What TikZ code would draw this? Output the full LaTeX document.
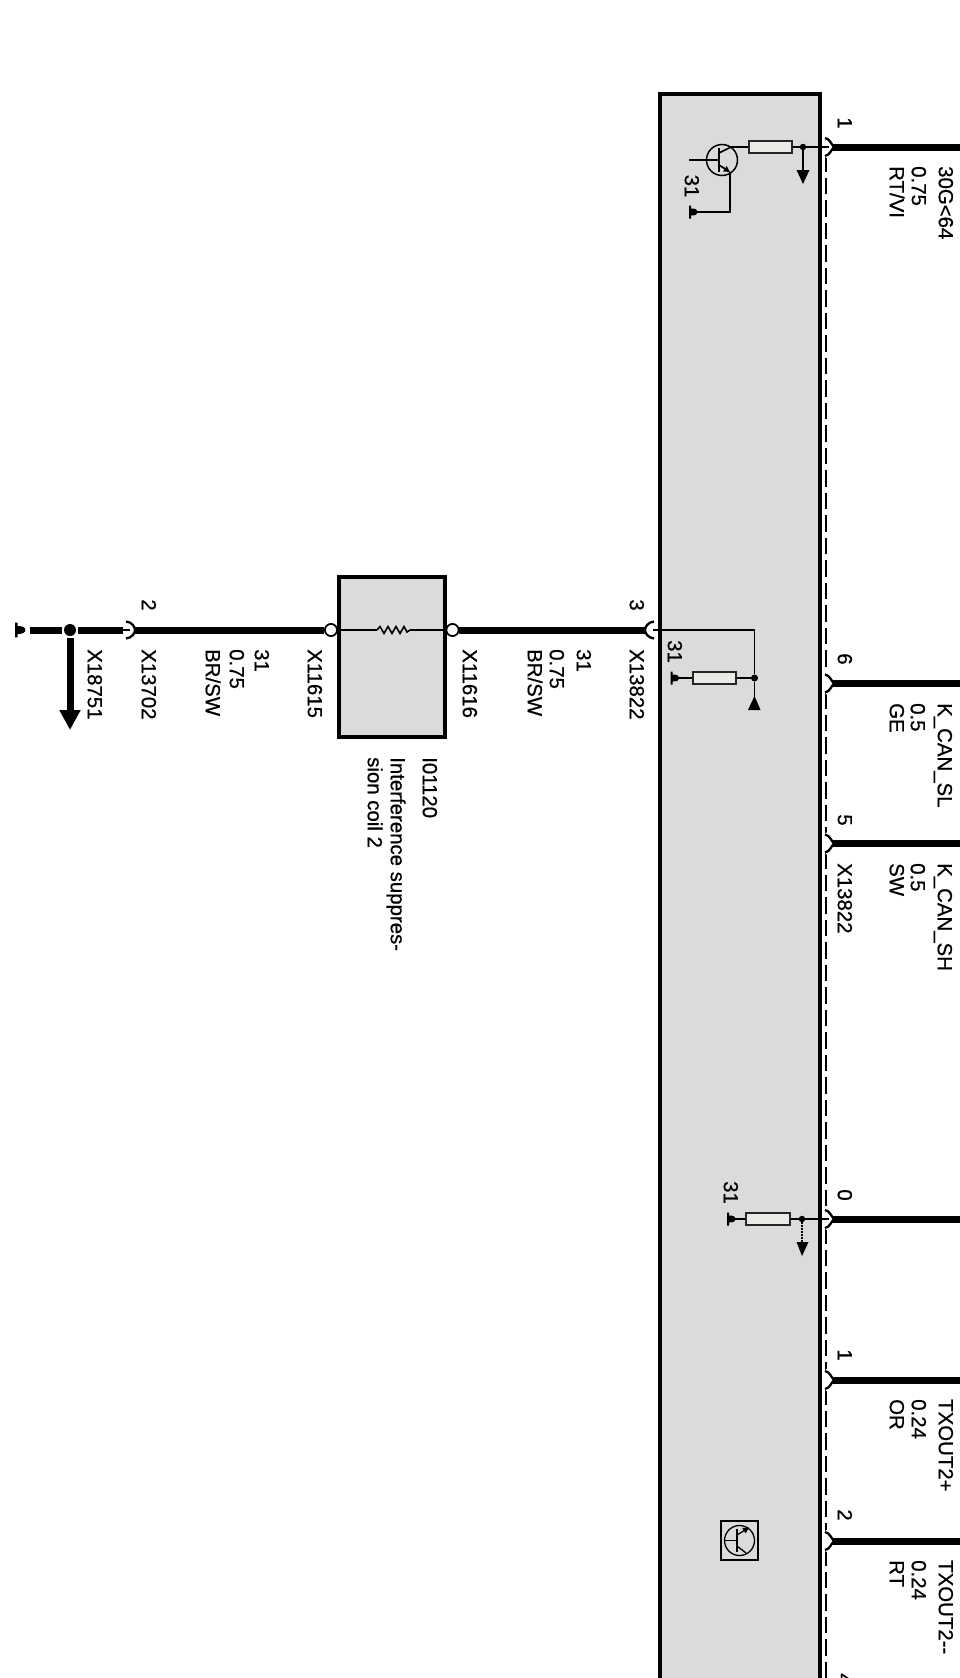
\documentclass[tikz,border=0pt]{standalone}
\usepackage{fontspec}
\setmainfont{Liberation Sans}
\newfontfamily\lblfont{Liberation Sans}[RawFeature={embolden=0.7}]
\usetikzlibrary{arrows.meta}
\definecolor{boxgray}{HTML}{DBDBDB}
\definecolor{resfill}{HTML}{E9E9E6}
\tikzset{
  x=1pt,y=-1pt,
  lbl/.style={rotate=-90,anchor=west,inner sep=0pt,text height=14.4pt,text depth=0pt,font=\lblfont\fontsize{20.4}{22}\selectfont,text=black},
  lblc/.style={lbl,anchor=center},
  modbox/.style={draw=black,line width=3.9pt,fill=boxgray,inner sep=0pt,outer sep=0pt,rectangle},
  res/.style={draw=black!85,line width=1.7pt,fill=resfill,inner sep=0pt,rectangle,minimum width=43pt,minimum height=12pt},
  thickwire/.style={line width=7pt,draw=black},
  thinwire/.style={line width=1.7pt,draw=black},
  dashwire/.style={line width=1.7pt,draw=black,dash pattern=on 16.5pt off 6pt},
  dot/.style={circle,fill=black,inner sep=0pt,minimum size=#1},
  dot/.default=7pt,
  opencirc/.style={circle,draw=black,line width=1.6pt,fill=white,inner sep=0pt,minimum size=12pt},
  downarrow/.style={thinwire,-{Triangle[length=14pt,width=12.5pt]}},
  gnd/.pic={\fill[black] (0,-6.5)--(2.2,-6.5)--(2.2,-3.5) .. controls (6,-3.5) and (9,-2.5) .. (9,0) .. controls (9,2.5) and (6,3.5) .. (2.2,3.5) --(2.2,6.5)--(0,6.5)--cycle;},
  connR/.pic={
    \draw[white,line width=4.5pt] (-4,-9) .. controls (1,-8) and (2,-3) .. (5,0) .. controls (2,3) and (1,8) .. (-4,9);
    \draw[black,line width=2.3pt] (-4,-9) .. controls (1,-8) and (2,-3) .. (5,0) .. controls (2,3) and (1,8) .. (-4,9);},
  connL/.pic={
    \draw[white,line width=4.5pt] (4,-8.5) .. controls (-2,-8) and (-5,-3) .. (-5,0) .. controls (-5,3) and (-2,8) .. (4,8.5);
    \draw[black,line width=2.3pt] (4,-8.5) .. controls (-2,-8) and (-5,-3) .. (-5,0) .. controls (-5,3) and (-2,8) .. (4,8.5);},
}
\begin{document}
\begin{tikzpicture}
\useasboundingbox (0,0) rectangle (960,1678);
\fill[white] (0,0) rectangle (960,1678);

% boxes
\node[modbox,minimum width=160pt,minimum height=1800pt,anchor=north west] (module) at (660,93.7) {};
\node[modbox,minimum width=106pt,minimum height=160pt,anchor=north west] (coil) at (339,577) {};

% right-hand pins
\coordinate (p1) at (829,147);
\coordinate (p1e) at (960,147);
\coordinate (p6) at (829,683.5);
\coordinate (p6e) at (960,683.5);
\coordinate (p5) at (829,843.5);
\coordinate (p5e) at (960,843.5);
\coordinate (p0) at (829,1219);
\coordinate (p0e) at (960,1219);
\coordinate (p1b) at (829,1380);
\coordinate (p1be) at (960,1380);
\coordinate (p2b) at (829,1541);
\coordinate (p2be) at (960,1541);

% dashed shield
\foreach \a/\b in {155/675,692/835,852/1211,1227/1372,1388/1533,1549/1678}
  \draw[dashwire] (826,\a) -- (826,\b);

% pin 1 circuit
\node[res] (r1) at (770.5,147) {};
\node[dot=6.5pt] (j1) at (803,147) {};
\coordinate (a1) at (803,184);
\draw[thinwire] (r1.east) -- (j1) -- (p1);
\draw[downarrow] (j1) -- (a1);
\node[circle,draw=black,line width=1.5pt,inner sep=0pt,minimum size=31pt] (t1) at (722,160) {};
\coordinate (t1b) at (689,160);
\coordinate (t1bar) at (719,160);
\coordinate (t1c) at (731,147);
\coordinate (t1e) at (730,172);
\coordinate (g1c) at (730,212);
\coordinate (g1) at (696,212);
\draw[thinwire] (t1b) -- (t1bar);
\draw[black,line width=2pt] (719,148) -- (719,172);
\draw[thinwire] (719,153) -- (t1c) -- (r1.west);
\draw[black,line width=1.7pt,-{Triangle[length=6pt,width=6pt]}] (719,165) -- (t1e);
\draw[thinwire] (t1e) -- (g1c) -- (g1);
\pic at (689,212) {gnd};
\node[lblc] (n31a) at (692,186) {31};

% pin 3 circuit
\coordinate (w3) at (653,630);
\coordinate (c3) at (754.5,630);
\node[dot=7pt] (j3) at (754.5,678) {};
\node[res] (r3) at (714.5,678) {};
\coordinate (g3) at (676,678);
\coordinate (a3) at (754.5,698);
\draw[thinwire] (w3) -- (c3) -- (j3) -- (a3);
\draw[thinwire] (j3) -- (r3.east);
\draw[thinwire] (r3.west) -- (g3);
\fill[black] (748,710) -- (760.5,710) -- (754.5,696) -- cycle;
\pic at (670.5,678) {gnd};
\node[lbl] (n31b) at (675,640) {31};

% pin 0 circuit
\node[res,minimum width=44pt] (r0) at (768,1219) {};
\node[dot=6.5pt] (j0) at (802,1219) {};
\coordinate (g0) at (730,1219);
\coordinate (a0) at (802,1256);
\draw[thinwire] (r0.east) -- (j0) -- (p0);
\draw[thinwire] (r0.west) -- (g0);
\draw[thinwire,dash pattern=on 2pt off 1pt] (j0) -- (802,1243);
\fill[black] (796.5,1242) -- (808.5,1242) -- (802,1256) -- cycle;
\pic at (727,1219) {gnd};
\node[lbl] (n31c) at (731,1181) {31};

% transistor symbol
\node[rectangle,draw=black,line width=1.3pt,minimum width=37pt,minimum height=39pt,inner sep=0pt,fill=boxgray] (tbox) at (739.5,1540.5) {};
\node[circle,draw=black,line width=1.3pt,inner sep=0pt,minimum size=30pt] (t2) at (739.5,1540.5) {};
\draw[black,line width=1.3pt] (t2.west) -- (737,1540.5);
\draw[black,line width=1.6pt] (737,1529) -- (737,1552);
\draw[black,line width=1.3pt,-{Triangle[length=6pt,width=6pt]}] (737,1535) -- (749,1527.5);
\draw[black,line width=1.3pt] (737,1546) -- (746,1553);

% connector marks and thick wires
\foreach \c in {p1,p6,p5,p0,p1b,p2b}
  \pic at (\c) {connR};
\foreach \s/\e in {p1/p1e,p6/p6e,p5/p5e,p0/p0e,p1b/p1be,p2b/p2be}
  \draw[thickwire] (\s) ++(4,0) -- (\e);

% main line
\node[opencirc] (o1) at (452.5,630) {};
\node[opencirc] (o2) at (331,630) {};
\coordinate (c3l) at (650,630);
\coordinate (c2) at (133,630);
\pic at (c3l) {connL};
\draw[thickwire] (645,630) -- (o1);
\draw[thickwire] (o2) -- (c2);
\coordinate (z1) at (377,630);
\coordinate (z2) at (410,630);
\draw[thinwire] (o1) -- (z2);
\draw[thinwire] (z1) -- (o2);
\draw[black,line width=1.6pt] (z1) -- (380,626.5) -- (384,633.5) -- (388,626.5) -- (392,633.5) -- (396,626.5) -- (400,633.5) -- (404,626.5) -- (407,632) -- (z2);
\node[opencirc] at (o1) {};
\node[opencirc] at (o2) {};
\draw[thinwire] (121,630) -- (130,630);
\pic[xscale=-1] at (130,630) {connL};
\draw[thickwire] (134,630) -- (150,630);

% left end
\node[dot=12pt] (j2) at (70,630) {};
\coordinate (w2a) at (78,630);
\coordinate (w2b) at (123,630);
\coordinate (w1a) at (30,630);
\coordinate (w1b) at (62,630);
\draw[thickwire] (w2a) -- (w2b);
\draw[thickwire] (w1a) -- (w1b);
\coordinate (a2) at (70,730);
\draw[line width=7pt,-{Triangle[length=20pt,width=20pt]}] (70,638) -- (a2);
\pic[scale=1.15] at (15,630) {gnd};

% labels
\node[lblc] (l2) at (149,605) {2};
\node[lblc] (l3) at (637,605) {3};
\node[lblc] (l1) at (845,123) {1};
\node[lblc] (l6) at (845,659) {6};
\node[lblc] (l5) at (845,820) {5};
\node[lblc] (l0) at (845,1195) {0};
\node[lblc] (l1b) at (845,1355) {1};
\node[lblc] (l2b) at (845,1515) {2};
\node[lblc] (l4) at (845,1679) {4};

\node[lbl] (x18751) at (95,649) {X18751};
\node[lbl] (x13702) at (149,649) {X13702};
\node[lbl] (w31a) at (262,649) {31};
\node[lbl] (w075a) at (237,649) {0.75};
\node[lbl] (wbra) at (213,649) {BR/SW};
\node[lbl] (x11615) at (315,649) {X11615};
\node[lbl] (x11616) at (470,649) {X11616};
\node[lbl] (w31b) at (584,649) {31};
\node[lbl] (w075b) at (557,649) {0.75};
\node[lbl] (wbrb) at (535,649) {BR/SW};
\node[lbl] (x13822a) at (637,649) {X13822};
\node[lbl] (i01120) at (430,757) {I01120};
\node[lbl] (coilb) at (398,757) {Interference suppres-};
\node[lbl] (coilc) at (375,757) {sion coil 2};

\node[lbl] (s30g) at (946,166) {30G<64};
\node[lbl] (s075) at (919,166) {0.75};
\node[lbl] (srt) at (897,166) {RT/VI};
\node[lbl] (ssl) at (945,703) {K\_CAN\_SL};
\node[lbl] (ssl05) at (918,703) {0.5};
\node[lbl] (sge) at (897,703) {GE};
\node[lbl] (ssh) at (945,863) {K\_CAN\_SH};
\node[lbl] (ssh05) at (918,863) {0.5};
\node[lbl] (ssw) at (897,863) {SW};
\node[lbl] (x13822b) at (845,863) {X13822};
\node[lbl] (tp) at (946,1399) {TXOUT2+};
\node[lbl] (tp24) at (919,1399) {0.24};
\node[lbl] (tpor) at (897,1399) {OR};
\node[lbl] (tm) at (946,1560) {TXOUT2{-}{-}};
\node[lbl] (tm24) at (919,1560) {0.24};
\node[lbl] (tmrt) at (897,1560) {RT};
\end{tikzpicture}
\end{document}
